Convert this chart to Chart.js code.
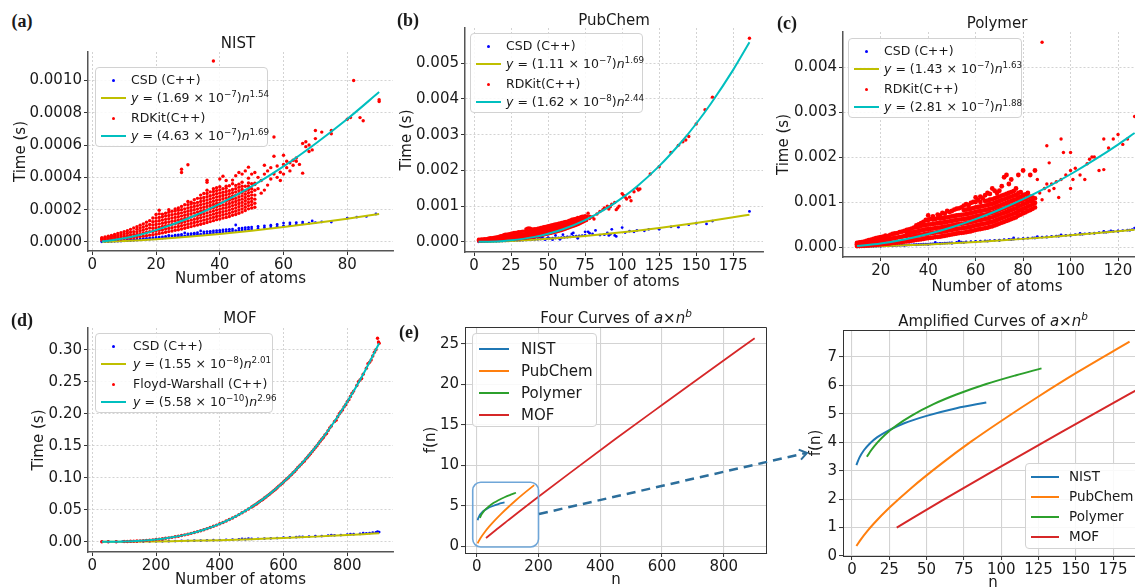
<!DOCTYPE html>
<html><head><meta charset="utf-8">
<script src="https://cdn.jsdelivr.net/npm/chart.js@4.4.0/dist/chart.umd.min.js"></script>
<style>
html,body{margin:0;padding:0;background:#fff;}
#fig{position:relative;width:1135px;height:587px;overflow:hidden;font-family:'DejaVu Sans',sans-serif;color:#1a1a1a;background:#fff;}
canvas{position:absolute;}
.t{position:absolute;white-space:nowrap;transform:translate(-50%,-50%);font-size:15px;line-height:1;z-index:4;}
.pl{position:absolute;font-family:'Liberation Serif','Times New Roman',serif;font-weight:bold;font-size:18px;transform:translate(-50%,-50%);line-height:1;z-index:4;}
.leg{position:absolute;background:rgba(255,255,255,0.85);border:1px solid #d2d2d2;border-radius:4px;box-sizing:border-box;z-index:5;}
.row{position:absolute;left:0;height:0;width:100%;}
.mk{position:absolute;}
.tx{position:absolute;white-space:nowrap;transform:translateY(-50%);line-height:1;}
sup{font-size:70%;vertical-align:0;position:relative;top:-0.55em;line-height:0;}
i{font-style:oblique;}
svg{position:absolute;left:0;top:0;z-index:6;}
</style></head>
<body><div id="fig"></div>
<script>
// ================= DATA =================
// ---- (a) NIST : times in microseconds ----
const nistXTicks = [0, 20, 40, 60, 80];
const nistYTicks = [0, 0.0002, 0.0004, 0.0006, 0.0008, 0.0010];
const nistCsdPts = [[3,1],[3,3],[4,2],[4,4],[5,2],[5,4],[6,3],[6,6],[7,4],[7,7],[8,5],[8,8],[9,6],[9,10],[10,7],[10,11],[11,8],[11,12],[12,9],[12,14],[13,10],[13,15],[14,12],[14,17],[15,13],[15,18],[16,14],[16,20],[17,16],[17,22],[18,17],[18,24],[19,19],[19,26],[20,20],[20,28],[21,22],[21,30],[22,24],[22,32],[23,26],[23,34],[24,28],[24,40],[25,30],[25,38],[26,32],[26,42],[27,34],[27,44],[28,36],[28,46],[29,38],[29,56],[30,40],[30,50],[31,42],[31,52],[32,44],[32,54],[33,46],[33,57],[34,48],[34,68],[35,50],[35,62],[36,52],[36,64],[37,54],[37,66],[38,56],[38,68],[39,58],[39,70],[40,60],[40,72],[41,62],[41,74],[42,64],[42,76],[43,66],[43,78],[44,68],[44,80],[45,70],[45,105],[46,72],[46,84],[47,74],[47,86],[48,76],[48,88],[49,78],[49,90],[50,80],[50,92],[52,84],[52,96],[54,88],[54,100],[56,92],[56,104],[58,96],[58,108],[60,100],[60,117],[62,104],[62,118],[64,108],[64,120],[66,112],[66,123],[68,116],[69,130],[70,120],[72,124],[75,123],[80,148],[83,154],[86,158],[89,173]];
const nistRdkitCols = [[3,[12,17,22,27]],[4,[13,19,25,31]],[5,[14,21,28,35]],[6,[15,24,33,41]],[7,[16,26,36,46]],[8,[18,29,40,52]],[9,[20,32,45,58]],[10,[22,36,50,64]],[11,[24,39,54,70]],[12,[26,43,60,78]],[13,[28,46,64,86]],[14,[30,46,62,78,94]],[15,[33,51,69,87,104]],[16,[36,55,74,93,112]],[17,[39,59,80,101,122]],[18,[42,64,86,108,132]],[19,[45,65,85,105,125,148]],[20,[48,68,88,108,128,148,170]],[21,[52,72,92,112,132,152,174,196]],[22,[56,76,96,116,136,156,172]],[23,[60,80,100,120,140,160,178]],[24,[64,84,104,124,144,164,184,200]],[25,[68,88,108,128,148,168,190]],[26,[72,92,112,132,152,172,192,204]],[27,[76,96,116,136,156,176,196,210]],[28,[80,100,120,140,160,180,200,220,430,450]],[29,[85,105,125,145,165,185,205,230]],[30,[90,110,130,150,170,190,210,230,250,478]],[31,[95,115,135,155,175,195,215,235,246]],[32,[100,120,140,160,180,200,220,240,262]],[33,[105,125,145,165,185,205,225,245,270]],[34,[110,130,150,170,190,210,230,250,270,290]],[35,[115,135,155,175,195,215,235,255,275,300]],[36,[120,140,160,180,200,220,240,260,280,300,320,370,382]],[37,[126,146,166,186,206,226,246,266,286,310]],[38,[132,152,172,192,212,232,252,272,292,312,330,1120]],[39,[138,158,178,198,218,238,258,278,298,318,336]],[40,[142,162,182,202,222,242,262,282,302,322,342,390]],[41,[148,168,188,208,228,248,268,288,308,330,407]],[42,[152,172,192,212,232,252,272,292,312,332,345,380]],[43,[158,178,198,218,238,258,278,298,318,348]],[44,[165,185,205,225,245,265,285,305,325,360,383]],[45,[170,190,210,230,250,270,290,310,330,350,410]],[46,[178,198,218,238,258,278,298,318,338,358,430]],[47,[185,205,225,245,265,285,305,325,345,370,420]],[48,[195,215,235,255,275,295,315,345,440]],[49,[205,225,245,265,285,305,325,345,365,395,463]],[50,[210,230,250,270,290,310,330,360,420]],[51,[215,240,265,290,320,355,364,430]]];
const nistRdkitPts = [[52,400],[52,330],[53,302],[53,380],[54,321],[54,420],[54,475],[55,440],[55,352],[56,390],[56,460],[57,531],[57,650],[57,420],[58,470],[58,400],[59,432],[59,380],[60,537],[60,480],[60,420],[61,460],[61,500],[62,490],[62,440],[63,506],[63,475],[64,520],[64,500],[65,480],[66,610],[66,426],[67,620],[67,590],[68,600],[68,560],[69,570],[70,690],[70,640],[72,680],[75,690],[75,670],[80,760],[81,770],[82,1000],[84,770],[85,750],[90,870],[90,880]];
const nistCsdFit = [[3,0.92],[5,2.01],[10,5.86],[15,10.9],[20,17.0],[30,31.8],[40,49.5],[50,69.9],[60,92.5],[70,117.4],[80,144.1],[90,172.8]];
const nistRdkitFit = [[3,2.96],[5,7.03],[10,22.7],[15,45.0],[20,73.2],[30,145.2],[40,236],[50,344],[60,468],[70,608],[80,761],[90,928]];

// ---- (b) PubChem : microseconds ----
const pubXTicks = [0, 25, 50, 75, 100, 125, 150, 175];
const pubYTicks = [0, 0.001, 0.002, 0.003, 0.004, 0.005];
const pubCsdPts = [[3,2],[5,4],[7,6],[9,8],[11,10],[13,13],[15,16],[17,19],[19,22],[21,25],[23,28],[25,31],[27,35],[29,39],[31,43],[33,47],[35,52],[37,56],[39,61],[41,66],[43,71],[45,76],[47,82],[49,88],[51,94],[53,100],[55,106],[57,113],[59,120],[61,127],[63,134],[65,141],[67,149],[69,157],[71,165],[73,173],[75,181],[40,100],[44,140],[45,150],[46,130],[48,60],[50,120],[53,60],[55,180],[58,70],[60,200],[63,140],[66,220],[67,250],[70,100],[75,280],[77,280],[78,240],[80,220],[82,320],[85,190],[88,200],[90,250],[91,180],[92,210],[93,350],[95,180],[96,150],[100,400],[102,260],[105,300],[108,280],[110,320],[115,310],[118,350],[125,350],[133,420],[138,410],[145,480],[150,520],[157,500],[161,580],[186,850]];
const pubRdkitCols = [[3,[20,45,70]],[4,[22,48,74]],[5,[24,50,78]],[6,[26,54,82]],[7,[28,56,86]],[8,[30,60,90]],[9,[32,64,96]],[10,[34,70,106]],[11,[36,74,112]],[12,[38,78,118]],[13,[40,82,124]],[14,[42,86,130]],[15,[44,90,136]],[16,[46,94,142]],[17,[48,98,148,160]],[18,[50,100,150,170]],[19,[52,104,156,180]],[20,[54,108,160,200]],[21,[56,110,165,210]],[22,[58,114,170,210]],[23,[60,118,176,220]],[24,[62,120,180,230]],[25,[65,125,185,240]],[26,[68,128,190,250]],[27,[70,130,195,260]],[28,[74,135,200,265]],[29,[78,140,205,270]],[30,[82,145,210,280]],[31,[86,150,215,280]],[32,[90,155,220,290]],[33,[95,160,225,300]],[34,[100,165,230,300]],[35,[105,170,235,300,360]],[36,[110,175,240,305,380]],[37,[115,180,245,310,390]],[38,[120,185,250,315,380]],[39,[125,190,255,320,360]],[40,[130,195,260,325,360]],[41,[138,200,265,330,365]],[42,[146,210,275,340,370]],[43,[154,220,285,350,380]],[44,[162,230,295,360,390]],[45,[170,240,305,370,400]],[46,[180,250,315,380,410]],[47,[190,260,325,390,420]],[48,[200,270,335,400,430]],[49,[210,275,340,400,440]],[50,[220,285,350,410,450]],[51,[230,295,360,420,460]],[52,[240,305,370,430,470]],[53,[250,315,380,440,480]],[54,[260,325,390,450,490]],[55,[270,335,400,460,500]],[56,[280,345,410,470,510]],[57,[295,360,420,480,520]],[58,[305,370,430,490,530]],[59,[318,380,440,500,540]],[60,[330,390,450,510,550]],[61,[345,405,465,525,560]],[62,[360,420,480,540,570]],[63,[375,435,495,555,580]],[64,[390,450,510,570,600]],[65,[405,465,525,585,610]],[66,[420,480,540,600,630]],[67,[435,495,555,615,640]],[68,[450,510,570,630,650]],[69,[465,525,585,645,660]],[70,[480,540,600,660,680]],[71,[500,560,620,680]],[72,[520,580,640,700]],[73,[540,600,660,720]],[74,[560,620,680,720]],[75,[580,640,700,730]],[76,[600,660,720]]];
const pubRdkitPts = [[77,800],[78,720],[78,650],[79,690],[80,700],[81,640],[83,780],[85,850],[87,900],[88,950],[90,1000],[91,920],[92,980],[93,1050],[95,1100],[96,900],[97,950],[98,1000],[100,1350],[101,1300],[102,1250],[103,1200],[105,1250],[106,1150],[108,1400],[110,1500],[111,1450],[112,1480],[119,1900],[125,2100],[133,2500],[138,2700],[141,2800],[143,2850],[145,2950],[150,3300],[156,3700],[161,4050],[186,5700]];
const pubCsdFit = [[3,0.71],[10,5.4],[25,25.6],[40,56.6],[50,82.5],[60,112.3],[75,164],[90,222.6],[100,266],[110,312.8],[125,388],[140,470],[150,528],[160,589],[175,685],[186,760]];
const pubRdkitFit = [[3,0.24],[10,4.46],[20,24.2],[25,41.7],[40,131.3],[50,226.5],[60,353],[75,609],[90,950],[100,1229],[110,1550],[125,2119],[140,2794],[150,3305],[160,3872],[175,4813],[186,5584]];

// ---- (c) Polymer : microseconds ----
const polyXTicks = [20, 40, 60, 80, 100, 120];
const polyYTicks = [0, 0.001, 0.002, 0.003, 0.004];
const polyCsdPts = [[10,5],[11,7],[12,8],[13,10],[14,12],[15,13],[16,15],[17,17],[18,19],[19,21],[20,22],[21,24],[22,26],[23,28],[24,30],[25,32],[26,34],[27,36],[28,38],[29,40],[30,42],[31,44],[32,46],[33,49],[34,51],[35,54],[36,56],[37,58],[38,61],[39,63],[40,66],[41,68],[42,71],[43,100],[44,76],[45,79],[46,82],[47,85],[48,88],[49,91],[50,94],[52,100],[53,130],[54,106],[56,112],[58,118],[60,124],[62,130],[64,136],[66,142],[68,148],[70,155],[72,162],[74,168],[76,175],[78,182],[80,188],[82,196],[84,203],[86,210],[88,218],[90,226],[92,234],[94,242],[96,250],[98,258],[100,266],[102,275],[104,284],[106,293],[108,300],[110,310],[112,318],[114,328],[116,337],[118,346],[120,356],[122,366],[124,375],[126,385],[127,420],[20,18],[25,28],[30,36],[35,46],[40,57],[45,70],[50,84],[55,98],[60,113],[65,129],[70,145],[75,162],[80,181],[85,200],[90,219],[95,239],[100,260],[105,282],[110,304],[115,327],[120,350],[125,373],[76,200],[86,230],[96,270],[104,300],[114,345],[117,360]];
const polyRdkitCols = [[10,[20,60,90]],[11,[22,62,100]],[12,[25,70,110]],[13,[28,75,120]],[14,[32,85,135]],[15,[35,95,150]],[16,[40,105,165]],[17,[45,115,180]],[18,[50,125,195]],[19,[55,135,210]],[20,[60,140,220]],[21,[65,150,230]],[22,[70,160,250]],[23,[75,170,240]],[24,[80,180,270]],[25,[90,190,290]],[26,[95,200,300]],[27,[100,210,310]],[28,[105,220,330]],[29,[110,230,340]],[30,[120,240,360]],[31,[125,250,310,380]],[32,[130,260,330,390]],[33,[140,230,320,410]],[34,[150,240,330,430]],[35,[160,250,340,440,480]],[36,[165,260,350,450,500]],[37,[170,270,370,470,530]],[38,[180,280,380,480,560]],[39,[190,290,390,490,600]],[40,[200,300,400,500,600,700]],[41,[205,305,405,505,620]],[42,[210,310,410,510,610,680]],[43,[220,320,420,520,620]],[44,[225,330,430,530,640,720]],[45,[230,330,430,530,630,700]],[46,[240,340,440,540,640,760]],[47,[250,350,450,550,650,740]],[48,[260,360,460,560,660,800]],[49,[270,370,470,570,670,780]],[50,[280,380,480,580,680,800]],[51,[290,390,490,590,690,830]],[52,[300,400,500,600,700,850]],[53,[310,410,510,610,710,860]],[54,[315,415,515,615,715,880]],[55,[320,420,520,620,720,820,920]],[56,[330,430,530,630,730,830,950]],[57,[340,440,540,640,740,840,930]],[58,[350,450,550,650,750,850,980]],[59,[365,465,565,665,765,865,1000]],[60,[380,480,580,680,780,880,1000,1100]],[61,[390,490,590,690,790,890,1050]],[62,[400,500,600,700,800,900,1000,1120]],[63,[410,510,610,710,810,910,1080]],[64,[420,520,620,720,820,920,1020,1150]],[65,[430,530,630,730,830,930,1030,1200]],[66,[450,550,650,750,850,950,1050,1180]],[67,[460,560,660,760,860,960,1060,1300]],[68,[480,580,680,780,880,980,1080,1250]],[69,[500,600,700,800,900,1000,1100,1200]],[70,[520,620,720,820,920,1020,1120,1250]],[71,[540,640,740,840,940,1040,1140,1350]],[72,[560,660,760,860,960,1060,1160,1550]],[73,[580,680,780,880,980,1080,1180,1600]],[74,[600,700,800,900,1000,1100,1200,1400]],[75,[620,720,820,920,1020,1120,1220,1500]],[76,[640,740,840,940,1040,1140,1240]],[77,[660,760,860,960,1060,1160,1300]],[78,[700,800,900,1000,1100,1200,1600]],[79,[720,820,920,1020,1120,1220]],[80,[750,850,950,1050,1150,1700]],[81,[770,870,970,1070,1170]],[82,[800,900,1000,1100,1200]],[83,[820,920,1020,1120,1600]],[84,[850,950,1050,1100]],[85,[880,980,1080,1700]]];
const polyRdkitPts = [[86,1500],[87,1200],[88,4550],[88,1050],[89,1300],[90,2250],[90,1400],[91,1870],[91,1250],[92,1400],[93,1300],[94,1450],[95,1100],[96,2400],[96,1500],[97,2100],[98,1600],[100,2100],[100,1700],[100,1300],[101,1500],[102,1750],[104,1600],[106,1500],[107,1850],[108,1950],[109,2000],[110,2000],[112,1700],[114,2400],[114,1720],[116,2200],[118,2400],[120,2500],[122,2280],[124,2400],[127,2900]];
const polyCsdFit = [[10,6.1],[20,18.9],[30,36.6],[40,58.4],[50,84.1],[60,113.1],[70,145.4],[80,180.8],[90,219],[100,260],[110,304],[120,350],[127,384]];
const polyRdkitFit = [[10,21.3],[20,78.5],[30,168],[40,289],[50,439],[60,619],[70,827],[80,1063],[90,1327],[100,1617],[110,1935],[120,2277],[127,2533]];

// ---- (d) MOF : seconds ----
const mofXTicks = [0, 200, 400, 600, 800];
const mofYTicks = [0, 0.05, 0.10, 0.15, 0.20, 0.25, 0.30];
const mofCsdPts = [[30,0.00002],[50,0.00005],[75,0.0001],[95,0.00015],[100,0.00018],[120,0.00025],[140,0.00032],[160,0.00042],[180,0.00055],[200,0.0007],[220,0.00085],[240,0.001],[260,0.0012],[280,0.0014],[300,0.0016],[320,0.0018],[340,0.002],[360,0.0023],[380,0.0025],[400,0.0028],[420,0.0031],[440,0.0034],[460,0.0037],[470,0.0046],[480,0.004],[490,0.0048],[500,0.0045],[520,0.0047],[540,0.0051],[560,0.0055],[580,0.0059],[600,0.0065],[620,0.0068],[640,0.0072],[650,0.0078],[660,0.0076],[680,0.0081],[700,0.0087],[720,0.009],[740,0.0098],[750,0.0105],[760,0.0101],[780,0.0106],[800,0.0112],[810,0.012],[820,0.0118],[840,0.0124],[850,0.0135],[860,0.013],[870,0.0136],[880,0.0142],[890,0.0148],[895,0.016],[900,0.0152]];
const mofFwPts = [[30,0.00002],[50,0.00006],[75,0.00018],[100,0.0005],[110,0.0006],[120,0.0008],[130,0.001],[140,0.00126],[150,0.00154],[160,0.00187],[170,0.0022],[180,0.00265],[190,0.0031],[200,0.0036],[210,0.0042],[220,0.0048],[230,0.0055],[240,0.0062],[250,0.007],[260,0.0079],[270,0.0088],[280,0.0098],[290,0.0109],[300,0.012],[310,0.0132],[320,0.0145],[330,0.0159],[340,0.0174],[350,0.0189],[360,0.0206],[370,0.0223],[380,0.0242],[390,0.0261],[400,0.0281],[410,0.0302],[420,0.0325],[430,0.0348],[440,0.0373],[450,0.0398],[460,0.0425],[470,0.0453],[480,0.0483],[490,0.0513],[500,0.0544],[510,0.0577],[520,0.0611],[530,0.0647],[540,0.0684],[550,0.0722],[560,0.0761],[570,0.0802],[580,0.0845],[590,0.0889],[600,0.0934],[610,0.0981],[620,0.1029],[630,0.1079],[640,0.113],[650,0.1184],[660,0.1238],[670,0.1295],[680,0.1353],[690,0.1412],[700,0.1474],[710,0.1537],[720,0.1602],[730,0.1669],[740,0.1737],[750,0.1808],[760,0.188],[770,0.1954],[780,0.203],[790,0.2108],[800,0.2188],[810,0.227],[820,0.2354],[830,0.244],[840,0.2528],[850,0.2618],[860,0.2711],[870,0.2805],[880,0.2902],[890,0.3],[900,0.3101],[885,0.296],[895,0.318],[898,0.312],[875,0.284],[865,0.278],[845,0.255],[835,0.25],[815,0.232],[805,0.222],[795,0.214],[785,0.206],[775,0.2],[765,0.19],[745,0.178],[735,0.169],[725,0.163],[715,0.157],[705,0.15],[695,0.144],[685,0.138],[675,0.132],[665,0.126],[655,0.121],[645,0.116],[635,0.11],[625,0.105],[615,0.1],[605,0.096],[595,0.091],[585,0.087],[575,0.082],[565,0.078],[555,0.074],[545,0.07],[535,0.066],[525,0.063],[515,0.059],[505,0.056]];
const mofCsdFit = [[30,1.44e-5],[100,1.62e-4],[150,3.67e-4],[200,6.53e-4],[250,1.02e-3],[300,1.477e-3],[350,2.01e-3],[400,2.633e-3],[450,3.34e-3],[500,4.123e-3],[550,4.99e-3],[600,5.949e-3],[650,6.99e-3],[700,8.11e-3],[750,9.32e-3],[800,1.06e-2],[850,1.198e-2],[900,1.344e-2]];
const mofFwFit = [[30,1.31e-5],[100,4.64e-4],[150,1.54e-3],[200,3.614e-3],[250,7.0e-3],[300,0.012],[350,0.01893],[400,0.02811],[450,0.03984],[500,0.05443],[550,0.07215],[600,0.09335],[650,0.11835],[700,0.1474],[750,0.1808],[800,0.2188],[850,0.2618],[900,0.3101]];

// ---- (e) curves f(n) ----
const curveNames = ['NIST', 'PubChem', 'Polymer', 'MOF'];
const nistCurve = [[3,3.20],[5,3.46],[8,3.72],[12,3.96],[17,4.18],[25,4.43],[35,4.67],[50,4.93],[70,5.20],[90,5.40]];
const pubchemCurve = [[3,0.35],[6,0.586],[10,0.857],[15,1.159],[25,1.694],[40,2.404],[60,3.25],[80,4.03],[100,4.75],[125,5.61],[150,6.43],[186,7.54]];
const polymerCurve = [[10,3.49],[13,3.73],[17,3.99],[22,4.26],[30,4.60],[40,4.94],[55,5.35],[70,5.68],[90,6.05],[110,6.36],[127,6.60]];
const mofCurve = [[30,1.00],[60,1.94],[100,3.15],[140,4.35],[186,5.70],[300,9.0],[450,13.27],[600,17.45],[750,21.6],[900,25.71]];
const fourXTicks = [0, 200, 400, 600, 800];
const fourYTicks = [0, 5, 10, 15, 20, 25];
const ampXTicks = [0, 25, 50, 75, 100, 125, 150, 175];
const ampYTicks = [0, 1, 2, 3, 4, 5, 6, 7];
const zoomBox = [-13, 200, -0.1, 7.9]; // region amplified: x0,x1,y0,y1

// ================= HELPERS =================
Chart.defaults.font.family = "'DejaVu Sans', sans-serif";
Chart.defaults.font.size = 15;
Chart.defaults.color = '#1a1a1a';
const fig = document.getElementById('fig');
const US = 1e-6;
const cols = (list, k) => { const o = []; list.forEach(([n, vs]) => vs.forEach(v => o.push({x: n, y: v * k}))); return o; };
const pts = (list, k) => list.map(([n, v]) => ({x: n, y: v * k}));

const C_BLUE = '#0000ff', C_RED = '#ff0000', C_Y = '#bfbf00', C_C = '#00bfbf';
const TAB = ['#1f77b4', '#ff7f0e', '#2ca02c', '#d62728'];

function scatterDs(label, data, color, r, order) {
  return {label, data, showLine: false, pointRadius: r, pointHoverRadius: r, pointBorderWidth: 0, backgroundColor: color, borderColor: color, order};
}
function lineDs(label, data, color, w, order) {
  return {label, data, showLine: true, pointRadius: 0, borderWidth: w, borderColor: color, backgroundColor: color, cubicInterpolationMode: 'monotone', fill: false, order};
}

const framePlugin = {
  id: 'frame',
  afterDraw(chart, args, o) {
    if (!o || !o.on) return;
    const {ctx, chartArea: a} = chart;
    ctx.save(); ctx.strokeStyle = '#333'; ctx.lineWidth = 1;
    ctx.beginPath(); ctx.moveTo(a.left, a.top + 0.5); ctx.lineTo(a.right - 0.5, a.top + 0.5); ctx.lineTo(a.right - 0.5, a.bottom); ctx.stroke();
    ctx.restore();
  }
};
const boxPlugin = {
  id: 'zbox',
  afterDatasetsDraw(chart, args, o) {
    if (!o || !o.box) return;
    const xs = chart.scales.x, ys = chart.scales.y, b = o.box;
    const x0 = xs.getPixelForValue(b[0]), x1 = xs.getPixelForValue(b[1]);
    const y0 = ys.getPixelForValue(b[3]), y1 = ys.getPixelForValue(b[2]);
    const ctx = chart.ctx;
    ctx.save(); ctx.strokeStyle = '#6fa6d8'; ctx.lineWidth = 1.6;
    ctx.beginPath(); ctx.roundRect(x0, y0, x1 - x0, y1 - y0, 8); ctx.stroke(); ctx.restore();
  }
};

function panel(g, p, datasets, plugOpts) {
  const c = document.createElement('canvas');
  const cl = g.L - g.W, ct = g.T - g.pt;
  const cw = g.R + g.pr - cl, ch = g.B + g.H - ct;
  c.width = cw; c.height = ch;
  c.style.left = cl + 'px'; c.style.top = ct + 'px'; c.style.width = cw + 'px'; c.style.height = ch + 'px';
  fig.appendChild(c);
  const mk = (axis) => {
    const isX = axis === 'x';
    return {
      type: 'linear', bounds: 'data',
      min: isX ? p.xMin : p.yMin, max: isX ? p.xMax : p.yMax,
      afterBuildTicks: s => { s.ticks = (isX ? p.xTicks : p.yTicks).map(v => ({value: v})); },
      afterFit: s => { if (isX) s.height = g.H; else s.width = g.W; },
      ticks: {callback: v => (isX ? p.xFmt : p.yFmt)(v), color: '#1a1a1a', font: {size: 15}, padding: isX ? 1 : 2, maxRotation: 0, autoSkip: false},
      grid: {color: p.gridColor, lineWidth: p.gridW, tickLength: 4, tickColor: '#333', tickWidth: 1},
      border: {display: true, color: p.spine, width: p.spineW, dash: p.dash},
      title: {display: true, text: isX ? p.xTitle : p.yTitle, color: '#1a1a1a', font: {size: 15}, padding: {top: 4, bottom: 4}}
    };
  };
  return new Chart(c.getContext('2d'), {
    type: 'scatter',
    data: {datasets},
    options: {
      responsive: false, animation: false, devicePixelRatio: 1,
      layout: {padding: {left: 0, top: g.pt, right: g.pr, bottom: 0}},
      plugins: Object.assign({legend: {display: false}, tooltip: {enabled: false}}, plugOpts || {}),
      scales: {x: mk('x'), y: mk('y')}
    },
    plugins: [framePlugin, boxPlugin]
  });
}

const topStyle = {gridColor: '#cfcfcf', gridW: 0.9, spine: '#555', spineW: 1.5, dash: [2, 2]};
const botStyle = {gridColor: '#d3d3d3', gridW: 1.1, spine: '#333', spineW: 1, dash: []};

// (a) NIST
panel({L: 88, T: 52, R: 393, B: 251, W: 80, H: 41, pt: 12, pr: 3},
  Object.assign({xMin: -1.35, xMax: 94.35, yMin: -0.000056, yMax: 0.001176, xTicks: nistXTicks, yTicks: nistYTicks,
    xFmt: v => String(v), yFmt: v => v.toFixed(4), xTitle: 'Number of atoms', yTitle: 'Time (s)'}, topStyle),
  [scatterDs('CSD (C++)', pts(nistCsdPts, US), C_BLUE, 1.4, 5),
   lineDs('y = (1.69 × 10^-7)n^1.54', pts(nistCsdFit, US), C_Y, 2, 4),
   scatterDs('RDKit(C++)', cols(nistRdkitCols, US), C_RED, 1.7, 3),
   scatterDs('RDKit(C++) sparse', pts(nistRdkitPts, US), C_RED, 1.7, 2),
   lineDs('y = (4.63 × 10^-7)n^1.69', pts(nistRdkitFit, US), C_C, 2, 1)]);

// (b) PubChem
panel({L: 465, T: 28, R: 763, B: 252, W: 71, H: 43, pt: 12, pr: 3},
  Object.assign({xMin: -6.15, xMax: 195.15, yMin: -0.000285, yMax: 0.005985, xTicks: pubXTicks, yTicks: pubYTicks,
    xFmt: v => String(v), yFmt: v => v.toFixed(3), xTitle: 'Number of atoms', yTitle: 'Time (s)'}, topStyle),
  [scatterDs('CSD (C++)', pts(pubCsdPts, US), C_BLUE, 1.4, 5),
   lineDs('y = (1.11 × 10^-7)n^1.69', pts(pubCsdFit, US), C_Y, 2, 4),
   scatterDs('RDKit(C++)', cols(pubRdkitCols, US), C_RED, 1.7, 3),
   scatterDs('RDKit(C++) sparse', pts(pubRdkitPts, US), C_RED, 1.7, 2),
   lineDs('y = (1.62 × 10^-8)n^2.44', pts(pubRdkitFit, US), C_C, 2, 1)]);

// (c) Polymer
panel({L: 843, T: 32, R: 1151, B: 257, W: 72, H: 43, pt: 12, pr: 3},
  Object.assign({xMin: 4.1, xMax: 133.9, yMin: -0.000222, yMax: 0.004778, xTicks: polyXTicks, yTicks: polyYTicks,
    xFmt: v => String(v), yFmt: v => v.toFixed(3), xTitle: 'Number of atoms', yTitle: 'Time (s)'}, topStyle),
  [scatterDs('CSD (C++)', pts(polyCsdPts, US), C_BLUE, 1.4, 5),
   lineDs('y = (1.43 × 10^-7)n^1.63', pts(polyCsdFit, US), C_Y, 2, 4),
   scatterDs('RDKit(C++)', cols(polyRdkitCols, US), C_RED, 2.4, 3),
   scatterDs('RDKit(C++) sparse', pts(polyRdkitPts, US), C_RED, 1.7, 2),
   lineDs('y = (2.81 × 10^-7)n^1.88', pts(polyRdkitFit, US), C_C, 2, 1)]);

// (d) MOF
panel({L: 88, T: 328, R: 393, B: 552, W: 62, H: 41, pt: 12, pr: 3},
  Object.assign({xMin: -13.5, xMax: 943.5, yMin: -0.0159, yMax: 0.3339, xTicks: mofXTicks, yTicks: mofYTicks,
    xFmt: v => String(v), yFmt: v => v.toFixed(2), xTitle: 'Number of atoms', yTitle: 'Time (s)'}, topStyle),
  [scatterDs('CSD (C++)', pts(mofCsdPts, 1), C_BLUE, 1.4, 4),
   lineDs('y = (1.55 × 10^-8)n^2.01', pts(mofCsdFit, 1), C_Y, 2, 3),
   scatterDs('Floyd-Warshall (C++)', pts(mofFwPts, 1), C_RED, 1.7, 2),
   lineDs('y = (5.58 × 10^-10)n^2.96', pts(mofFwFit, 1), C_C, 2, 1)]);

const curves = [nistCurve, pubchemCurve, polymerCurve, mofCurve];
// (e) Four curves
panel({L: 465, T: 327, R: 767, B: 553, W: 47, H: 40, pt: 12, pr: 3},
  Object.assign({xMin: -38, xMax: 940, yMin: -0.85, yMax: 27.1, xTicks: fourXTicks, yTicks: fourYTicks,
    xFmt: v => String(v), yFmt: v => String(v), xTitle: 'n', yTitle: 'f(n)'}, botStyle),
  curves.map((c, i) => lineDs(curveNames[i], pts(c, 1), TAB[i], 1.8, 4 - i)),
  {frame: {on: true}, zbox: {box: zoomBox}});

// Amplified
panel({L: 843, T: 330, R: 1143, B: 556, W: 40, H: 40, pt: 12, pr: 3},
  Object.assign({xMin: -6, xMax: 195, yMin: 0, yMax: 7.95, xTicks: ampXTicks, yTicks: ampYTicks,
    xFmt: v => String(v), yFmt: v => String(v), xTitle: 'n', yTitle: 'f(n)'}, botStyle),
  curves.map((c, i) => lineDs(curveNames[i], pts(c, 1), TAB[i], 2, 4 - i)),
  {frame: {on: true}});

// ================= TEXT OVERLAYS =================
function text(cls, x, y, html, extra) {
  const d = document.createElement('div'); d.className = cls; d.style.left = x + 'px'; d.style.top = y + 'px';
  d.innerHTML = html; if (extra) Object.assign(d.style, extra); fig.appendChild(d);
}
text('t', 238, 43, 'NIST');
text('t', 614, 20, 'PubChem');
text('t', 997, 23, 'Polymer');
text('t', 240, 318, 'MOF');
text('t', 616, 318, 'Four Curves of <i>a</i>×<i>n</i><sup><i>b</i></sup>');
text('t', 993, 321, 'Amplified Curves of <i>a</i>×<i>n</i><sup><i>b</i></sup>');
text('pl', 22, 21, '(a)');
text('pl', 408, 20, '(b)');
text('pl', 787, 23, '(c)');
text('pl', 22, 320, '(d)');
text('pl', 409, 332, '(e)');

const fitHtml = (a, e, b) => '<i>y</i> = (' + a + ' × 10<sup>−' + e + '</sup>)<i>n</i><sup>' + b + '</sup>';
function legend(box, rows, textX, lineX, fontSize, items) {
  const d = document.createElement('div'); d.className = 'leg';
  Object.assign(d.style, {left: box[0] + 'px', top: box[1] + 'px', width: box[2] + 'px', height: box[3] + 'px', fontSize: fontSize + 'px'});
  items.forEach((it, i) => {
    const r = document.createElement('div'); r.className = 'row'; r.style.top = rows[i] + 'px';
    const m = document.createElement('div'); m.className = 'mk';
    if (it.mk === 'dot') Object.assign(m.style, {left: ((lineX[0] + lineX[1]) / 2 - 1.5) + 'px', top: '-1.5px', width: '3px', height: '3px', borderRadius: '50%', background: it.c});
    else Object.assign(m.style, {left: lineX[0] + 'px', top: '-1px', width: (lineX[1] - lineX[0]) + 'px', height: it.w + 'px', background: it.c});
    const t = document.createElement('div'); t.className = 'tx'; t.style.left = textX + 'px'; t.innerHTML = it.h;
    r.appendChild(m); r.appendChild(t); d.appendChild(r);
  });
  fig.appendChild(d);
}
const topRows = [12, 30, 50, 68];
legend([95, 67, 173, 80], topRows, 35, [5, 30], 12.5, [
  {mk: 'dot', c: C_BLUE, h: 'CSD (C++)'}, {mk: 'line', c: C_Y, w: 2, h: fitHtml('1.69', 7, '1.54')},
  {mk: 'dot', c: C_RED, h: 'RDKit(C++)'}, {mk: 'line', c: C_C, w: 2, h: fitHtml('4.63', 7, '1.69')}]);
legend([470, 33, 173, 80], topRows, 35, [5, 30], 12.5, [
  {mk: 'dot', c: C_BLUE, h: 'CSD (C++)'}, {mk: 'line', c: C_Y, w: 2, h: fitHtml('1.11', 7, '1.69')},
  {mk: 'dot', c: C_RED, h: 'RDKit(C++)'}, {mk: 'line', c: C_C, w: 2, h: fitHtml('1.62', 8, '2.44')}]);
legend([848, 38, 174, 80], topRows, 35, [5, 30], 12.5, [
  {mk: 'dot', c: C_BLUE, h: 'CSD (C++)'}, {mk: 'line', c: C_Y, w: 2, h: fitHtml('1.43', 7, '1.63')},
  {mk: 'dot', c: C_RED, h: 'RDKit(C++)'}, {mk: 'line', c: C_C, w: 2, h: fitHtml('2.81', 7, '1.88')}]);
legend([95, 333, 178, 80], topRows, 37, [5, 30], 12.5, [
  {mk: 'dot', c: C_BLUE, h: 'CSD (C++)'}, {mk: 'line', c: C_Y, w: 2, h: fitHtml('1.55', 8, '2.01')},
  {mk: 'dot', c: C_RED, h: 'Floyd-Warshall (C++)'}, {mk: 'line', c: C_C, w: 2, h: fitHtml('5.58', 10, '2.96')}]);
legend([472, 333, 125, 94], [15, 37, 59, 81], 48, [6, 36], 15,
  curveNames.map((n, i) => ({mk: 'line', c: TAB[i], w: 2, h: n})));
legend([1025, 463, 125, 86], [13, 33, 53, 73], 43, [5, 33], 13.5,
  curveNames.map((n, i) => ({mk: 'line', c: TAB[i], w: 2, h: n})));

// dashed arrow from zoom box to amplified panel
const svgNS = 'http://www.w3.org/2000/svg';
const svg = document.createElementNS(svgNS, 'svg');
svg.setAttribute('width', '1135'); svg.setAttribute('height', '587');
svg.innerHTML = '<line x1="539" y1="514" x2="806" y2="453" stroke="#2c6e9b" stroke-width="2.5" stroke-dasharray="9,6"/>' +
  '<polyline points="798.7,449.6 807,453 801,459.7" fill="none" stroke="#2c6e9b" stroke-width="2"/>';
fig.appendChild(svg);
</script>
</body></html>
